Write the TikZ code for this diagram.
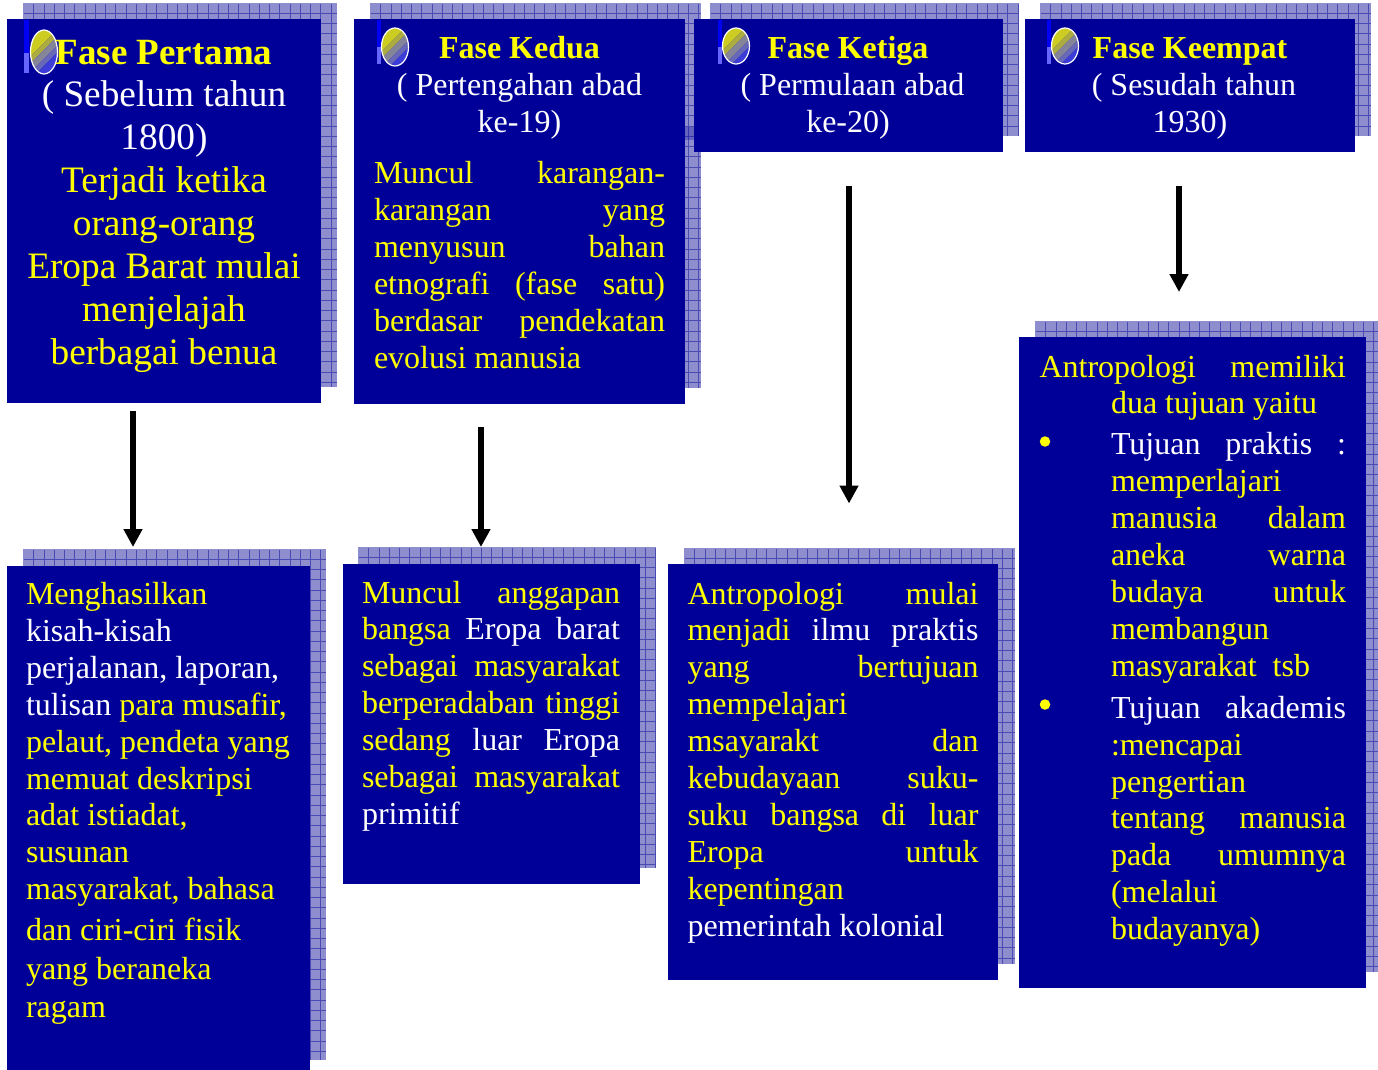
\documentclass[tikz,border=0pt]{standalone}
\usepackage{fontspec}
\setmainfont{Liberation Serif}
\usetikzlibrary{arrows.meta}
\definecolor{panelblue}{HTML}{000099}
\definecolor{shadowfill}{HTML}{8E8ECE}
\definecolor{shadowline}{HTML}{4A4AB4}
\definecolor{txtyellow}{HTML}{FFFF00}
\definecolor{orbA}{HTML}{CCCC22}
\definecolor{orbB}{HTML}{ACAC40}
\definecolor{orbC}{HTML}{85859A}
\definecolor{orbD}{HTML}{6868B8}
\definecolor{orbE}{HTML}{3C3CD8}
\newcommand{\wht}[1]{\textcolor{white}{#1}}
\newcommand{\firstline}{\vrule height 30pt width 0pt\relax}
\newcommand{\jl}[2]{\makebox[#1pt][s]{#2}}
\tikzset{
  x=1pt,y=-1pt,
  panel/.style={fill=panelblue,draw=none,inner sep=0pt,outer sep=0pt,anchor=north west},
  shadowgrid/.style={draw=shadowline,line width=0.6pt},
  bodytext/.style={inner sep=0pt,outer sep=0pt,anchor=north west,align=left,text=txtyellow,font=\fontsize{32}{36.9}\selectfont},
  headtext/.style={inner sep=0pt,outer sep=0pt,anchor=north,align=center,text=white,font=\fontsize{32}{37}\selectfont},
  bigheadtext/.style={headtext,font=\fontsize{37.3}{43}\selectfont},
  bulletmark/.style={inner sep=0pt,outer sep=0pt,circle,fill=txtyellow,minimum size=10.5pt},
  flowarrow/.style={draw=black,line width=6pt,-{Triangle[width=18pt,length=18pt]}},
}
% name, front x0 y0 x1 y1, shadow x0 y0 x1 y1
\newcommand{\panelbox}[9]{%
  \pgfmathsetmacro{\pw}{#4-#2}\pgfmathsetmacro{\ph}{#5-#3}%
  \pgfmathsetmacro{\sw}{#8-#6}\pgfmathsetmacro{\sh}{#9-#7}%
  \fill[shadowfill] (#6,#7) rectangle (#8,#9);
  \draw[shadowgrid,shift={(#6+0.45,#7)}] (1,1) grid[xstep=10.25pt,ystep=10.25pt] (\sw-0.45,\sh);
  \node[panel,minimum width=\pw pt,minimum height=\ph pt] (#1) at (#2,#3) {};
}
\newcommand{\orbband}[3]{\fill[#3] (\ocx+#1+60,\ocy-60) -- (\ocx+#1-60,\ocy+60) -- (\ocx+#2-60,\ocy+60) -- (\ocx+#2+60,\ocy-60) -- cycle;}
% icon: bar x, bar width, bar bottom y, ellipse cx cy rx ry
\newcommand{\orbicon}[7]{%
  \def\ocx{#4}\def\ocy{#5}%
  \fill[blue!95!black] (#1,20) rectangle ++(#2,{(#3-20)*0.62});
  \fill[blue!60!white] (#1,{20+(#3-20)*0.62}) rectangle (#1+#2,#3);
  \begin{scope}
    \clip (#4,#5) ellipse [x radius=#6,y radius=#7];
    \orbband{-50}{-9}{orbA}
    \orbband{-9}{-2}{orbB}
    \orbband{-2}{7}{orbC}
    \orbband{7}{14}{orbD}
    \orbband{14}{50}{orbE}
  \end{scope}
  \draw[white,line width=1.2pt] (#4,#5) ellipse [x radius=#6,y radius=#7];
}
\begin{document}
\begin{tikzpicture}
\useasboundingbox (0,0) rectangle (1378,1070);
\fill[white] (0,0) rectangle (1378,1070);

\panelbox{h1}{7}{19}{321}{403}{23}{3}{337}{387}
\panelbox{h2}{354}{19}{685}{404}{370}{3}{701}{388}
\fill[panelblue,opacity=0.3] (685,127) rectangle (694,140);
\panelbox{h3}{694}{19}{1003}{152}{710}{3}{1019}{136}
\panelbox{h4}{1025}{19}{1355}{152}{1040}{3}{1371}{136}
\panelbox{r1}{7}{566}{310}{1070}{23}{549}{326}{1060}
\panelbox{r2}{343}{564}{640}{884}{358}{547}{656}{868}
\panelbox{r3}{668}{564}{998}{980}{684}{548}{1015}{964}
\panelbox{r4}{1019}{337}{1366}{988}{1035}{321}{1378}{972}

\orbicon{24}{5}{73}{44}{52}{13.5}{22}
\orbicon{377}{3.5}{64}{395}{47}{13.5}{19}
\orbicon{718}{3.5}{64}{736}{46}{13.5}{18}
\orbicon{1047}{3.5}{64}{1065}{46}{13.5}{18}

\node[bigheadtext] (h1t) at (164,34) {\firstline\textcolor{txtyellow}{\fontsize{37}{43}\selectfont\textbf{Fase Pertama}}\\[-1pt]
  ( Sebelum tahun\\ 1800)\\
  \textcolor{txtyellow}{Terjadi ketika}\\ \textcolor{txtyellow}{orang-orang}\\
  \textcolor{txtyellow}{Eropa Barat mulai}\\ \textcolor{txtyellow}{menjelajah}\\ \textcolor{txtyellow}{berbagai benua}};

\node[headtext] (h2t) at (519.5,28.5) {\firstline\textcolor{txtyellow}{\textbf{Fase Kedua}}\\[-0.5pt] ( Pertengahan abad\\ ke-19)};
\node[bodytext] (h2b) at (374,153.5) {\firstline\jl{291}{Muncul karangan-}\\ \jl{291}{karangan yang}\\ \jl{291}{menyusun bahan}\\
  \jl{291}{etnografi (fase satu)}\\ \jl{291}{berdasar pendekatan}\\ evolusi manusia};

\node[headtext] (h3t) at (848,28.5) {\firstline\textcolor{txtyellow}{\textbf{Fase Ketiga}}\\[-0.5pt] \hspace*{9pt}( Permulaan abad\\ ke-20)};
\node[headtext] (h4t) at (1190,28.5) {\firstline\textcolor{txtyellow}{\textbf{Fase Keempat}}\\[-0.5pt] \hspace*{8pt}( Sesudah tahun\\ 1930)};

\node[bodytext] (r1t) at (26,574.5) {\firstline Menghasilkan\\ \wht{kisah-kisah}\\ \wht{perjalanan, laporan,}\\
  \wht{tulisan} para musafir,\\ pelaut, pendeta yang\\ memuat deskripsi\\ adat istiadat,\\ susunan\\ masyarakat, bahasa\\[3.5pt]
  dan ciri-ciri fisik\\[2.2pt] yang beraneka\\[1.2pt] ragam};

\node[bodytext] (r2t) at (362,573) {\firstline\jl{258}{Muncul anggapan}\\ \jl{258}{bangsa \wht{Eropa barat}}\\ \jl{258}{sebagai masyarakat}\\
  \jl{258}{berperadaban tinggi}\\ \jl{258}{sedang \wht{luar Eropa}}\\ \jl{258}{sebagai masyarakat}\\ \wht{primitif}};

\node[bodytext] (r3t) at (687.5,574) {\firstline\jl{291}{Antropologi mulai}\\ \jl{291}{menjadi \wht{ilmu praktis}}\\ \jl{291}{yang bertujuan}\\ mempelajari\\
  \jl{291}{msayarakt dan}\\ \jl{291}{kebudayaan suku-}\\ \jl{291}{suku bangsa di luar}\\ \jl{291}{Eropa untuk}\\ kepentingan\\ \wht{pemerintah kolonial}};

\node[bodytext] (r4a) at (1039.5,347) {\firstline\jl{306.5}{Antropologi memiliki}};
\node[bodytext] (r4b) at (1111,383) {\firstline dua tujuan yaitu\\[5pt]
  \jl{235}{\wht{Tujuan praktis :}}\\ memperlajari\\ \jl{235}{manusia dalam}\\ \jl{235}{aneka warna}\\ \jl{235}{budaya untuk}\\ membangun\\ masyarakat\ \ tsb\\[5pt]
  \jl{235}{\wht{Tujuan akademis}}\\ :mencapai\\ pengertian\\ \jl{235}{tentang manusia}\\ \jl{235}{pada umumnya}\\ (melalui\\ budayanya)};
\node[bulletmark] (b1) at (1045,441.5) {};
\node[bulletmark] (b2) at (1045,704.5) {};

\coordinate (a1s) at (133,411); \coordinate (a1e) at (133,547);
\coordinate (a2s) at (481,427); \coordinate (a2e) at (481,547);
\coordinate (a3s) at (849,186); \coordinate (a3e) at (849,503.5);
\coordinate (a4s) at (1179,186); \coordinate (a4e) at (1179,292);
\draw[flowarrow] (a1s) -- (a1e);
\draw[flowarrow] (a2s) -- (a2e);
\draw[flowarrow] (a3s) -- (a3e);
\draw[flowarrow] (a4s) -- (a4e);
\end{tikzpicture}
\end{document}
